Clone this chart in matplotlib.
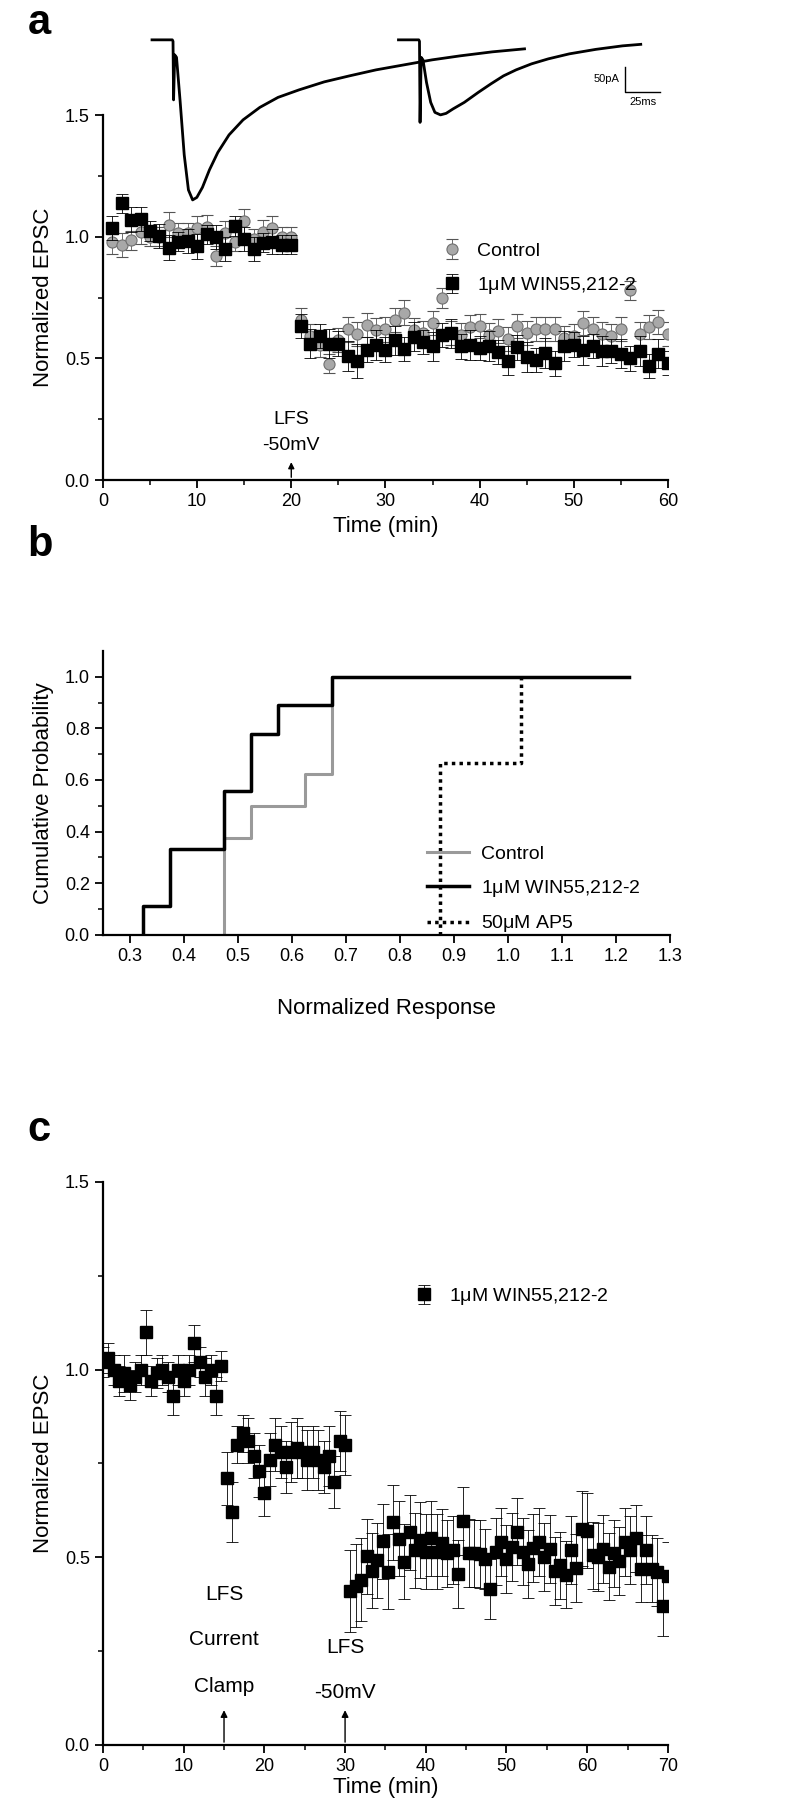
import numpy as np
import matplotlib
matplotlib.use('Agg')
import matplotlib.pyplot as plt

plt.rcParams['font.family'] = ['Liberation Sans', 'DejaVu Sans']
plt.rcParams['mathtext.default'] = 'regular'

# ---------------- Panel a data ----------------
time_a = list(range(1, 61))
win_a = [1.036, 1.137, 1.07, 1.074, 1.024, 1.004, 0.955, 0.98, 0.983, 0.96,
         1.01, 0.998, 0.95, 1.044, 0.99, 0.95, 0.976, 0.98, 0.967, 0.967,
         0.633, 0.561, 0.591, 0.561, 0.561, 0.51, 0.488, 0.536, 0.555, 0.536,
         0.575, 0.539, 0.589, 0.567, 0.549, 0.597, 0.603, 0.549, 0.555, 0.542,
         0.551, 0.527, 0.49, 0.545, 0.506, 0.494, 0.522, 0.479, 0.551, 0.557,
         0.533, 0.55, 0.53, 0.53, 0.52, 0.50, 0.53, 0.47, 0.52, 0.48]
win_a_err = [0.05, 0.04, 0.05, 0.05, 0.04, 0.05, 0.05, 0.04, 0.05, 0.05,
             0.04, 0.05, 0.05, 0.04, 0.05, 0.05, 0.04, 0.05, 0.04, 0.04,
             0.05, 0.06, 0.05, 0.06, 0.05, 0.06, 0.07, 0.05, 0.06, 0.05,
             0.06, 0.05, 0.06, 0.05, 0.06, 0.05, 0.06, 0.05, 0.06, 0.05,
             0.06, 0.05, 0.06, 0.05, 0.06, 0.05, 0.06, 0.05, 0.06, 0.05,
             0.06, 0.05, 0.06, 0.05, 0.06, 0.05, 0.06, 0.05, 0.06, 0.05]
ctrl_a = [0.98, 0.965, 0.985, 1.02, 1.0, 1.0, 1.05, 1.015, 1.015, 1.035,
          1.04, 0.92, 1.015, 0.98, 1.065, 0.99, 1.02, 1.035, 1.0, 1.0,
          0.658, 0.59, 0.555, 0.478, 0.575, 0.619, 0.6, 0.636, 0.615, 0.619,
          0.658, 0.688, 0.615, 0.603, 0.646, 0.749, 0.603, 0.597, 0.627, 0.633,
          0.597, 0.612, 0.579, 0.633, 0.603, 0.621, 0.621, 0.621, 0.585, 0.591,
          0.646, 0.62, 0.60, 0.59, 0.62, 0.78, 0.60, 0.63, 0.65, 0.60]
ctrl_a_err = [0.05, 0.05, 0.04, 0.05, 0.04, 0.04, 0.05, 0.04, 0.04, 0.05,
              0.05, 0.04, 0.05, 0.04, 0.05, 0.04, 0.05, 0.05, 0.04, 0.04,
              0.05, 0.05, 0.05, 0.04, 0.05, 0.05, 0.05, 0.05, 0.05, 0.05,
              0.05, 0.05, 0.05, 0.05, 0.05, 0.04, 0.05, 0.05, 0.05, 0.05,
              0.05, 0.05, 0.05, 0.05, 0.05, 0.05, 0.05, 0.05, 0.05, 0.05,
              0.05, 0.05, 0.05, 0.05, 0.05, 0.04, 0.05, 0.05, 0.05, 0.05]

# EPSC sample traces (ms, pA)
trace1_t = [-15, -0.5, 0, 0.4, 1.2, 2.5, 5, 8, 11, 14, 17, 21, 26, 32, 40, 50,
            62, 75, 90, 108, 126, 145, 165, 185, 205, 228, 251]
trace1_i = [0, 0, -3, -120, -30, -35, -120, -230, -300, -320, -315, -295, -260,
            -225, -190, -160, -135, -115, -100, -84, -72, -60, -50, -40, -32, -24, -18]
trace2_t = [-15, -0.5, 0, 0.4, 1.2, 2.5, 5, 8, 11, 15, 19, 24, 32, 42, 51, 60,
            69, 80, 92, 107, 126, 145, 158]
trace2_i = [0, 0, -3, -165, -35, -40, -85, -125, -145, -150, -147, -138, -125,
            -105, -88, -72, -60, -48, -38, -28, -19, -12, -9]

# ---------------- Panel b data ----------------
resp_ctrl = [0.475, 0.475, 0.475, 0.525, 0.625, 0.675, 0.675, 0.675]
resp_win = [0.325, 0.375, 0.375, 0.475, 0.475, 0.525, 0.525, 0.575, 0.675]
resp_ap5 = [0.875, 0.875, 1.025]
win_end = 1.225

# ---------------- Panel c data ----------------
time_c = np.arange(106) * (2.0 / 3.0)
win_c = [1.02, 1.03, 1.00, 0.97, 0.99, 0.96, 0.98, 1.00, 1.10, 0.97, 0.99, 1.00,
         0.98, 0.93, 1.00, 0.97, 1.00, 1.07, 1.02, 0.98, 1.00, 0.93, 1.01,
         0.71, 0.62, 0.80, 0.83, 0.81, 0.77, 0.73, 0.67, 0.76, 0.80, 0.78, 0.74,
         0.78, 0.79, 0.78, 0.76, 0.78, 0.76, 0.74, 0.77, 0.70, 0.81, 0.80,
         0.41, 0.424, 0.44, 0.502, 0.464, 0.492, 0.543, 0.462, 0.593, 0.549,
         0.488, 0.566, 0.518, 0.546, 0.515, 0.551, 0.515, 0.539, 0.51, 0.52,
         0.456, 0.597, 0.512, 0.51, 0.508, 0.495, 0.416, 0.515, 0.541, 0.495,
         0.528, 0.568, 0.515, 0.482, 0.525, 0.541, 0.5, 0.522, 0.464, 0.478,
         0.454, 0.52, 0.472, 0.576, 0.571, 0.505, 0.5, 0.522, 0.475,
         0.51, 0.49, 0.54, 0.52, 0.55, 0.47, 0.52, 0.47, 0.46, 0.37, 0.45]
win_c_err = [0.04, 0.04, 0.04, 0.04, 0.05, 0.04, 0.04, 0.04, 0.06, 0.04, 0.04, 0.04,
             0.04, 0.05, 0.04, 0.04, 0.04, 0.05, 0.04, 0.05, 0.04, 0.05, 0.04,
             0.07, 0.08, 0.05, 0.05, 0.06, 0.06, 0.07, 0.06, 0.07, 0.07, 0.07, 0.07,
             0.08, 0.08, 0.07, 0.08, 0.07, 0.08, 0.07, 0.08, 0.07, 0.08, 0.08,
             0.11, 0.11, 0.11, 0.10, 0.10, 0.10, 0.10, 0.10, 0.10, 0.10,
             0.10, 0.10, 0.10, 0.10, 0.10, 0.10, 0.10, 0.09, 0.09, 0.09,
             0.09, 0.09, 0.09, 0.09, 0.09, 0.08, 0.08, 0.09, 0.09, 0.09,
             0.09, 0.09, 0.09, 0.09, 0.09, 0.09, 0.09, 0.09, 0.09, 0.09,
             0.09, 0.09, 0.09, 0.10, 0.10, 0.09, 0.09, 0.09, 0.09,
             0.09, 0.09, 0.09, 0.09, 0.09, 0.09, 0.09, 0.09, 0.09, 0.08, 0.09]

# ---------------- Figure ----------------
fig = plt.figure(figsize=(7.89, 18), dpi=100)

TICK_FS = 13
LAB_FS = 16
LEG_FS = 14
GRAY_FC = '#a8a8a8'
GRAY_EC = '#707070'


def style_axis(ax):
    for s in ['top', 'right']:
        ax.spines[s].set_visible(False)
    for s in ['left', 'bottom']:
        ax.spines[s].set_linewidth(1.6)
    ax.tick_params(which='major', direction='out', length=6, width=1.3,
                   labelsize=TICK_FS)
    ax.tick_params(which='minor', direction='out', length=3.5, width=1.1)


# ----- Panel a -----
axa = fig.add_axes([0.1305, 0.7333, 0.716, 0.2028])
style_axis(axa)
axa.errorbar(time_a, ctrl_a, yerr=ctrl_a_err, fmt='o', ms=8, mfc=GRAY_FC,
             mec=GRAY_EC, mew=0.8, ecolor='#555555', elinewidth=0.6, capsize=4,
             capthick=0.6, label='Control', zorder=3)
axa.errorbar(time_a, win_a, yerr=win_a_err, fmt='s', ms=8.5, mfc='black',
             mec='black', ecolor='black', elinewidth=0.6, capsize=4,
             capthick=0.6, label='1$\\mu$M WIN55,212-2', zorder=4)
axa.set_xlim(0, 60)
axa.set_ylim(0, 1.5)
axa.set_xticks(range(0, 61, 10))
axa.set_xticks(range(5, 61, 10), minor=True)
axa.set_yticks([0.0, 0.5, 1.0, 1.5])
axa.set_yticks([0.25, 0.75, 1.25], minor=True)
axa.set_yticklabels(['0.0', '0.5', '1.0', '1.5'])
axa.set_xlabel('Time (min)', fontsize=LAB_FS, labelpad=4)
axa.set_ylabel('Normalized EPSC', fontsize=LAB_FS, labelpad=8)
axa.legend(loc='upper left', bbox_to_anchor=(0.57, 0.70), frameon=False,
           fontsize=LEG_FS, handletextpad=0.8, labelspacing=0.8,
           handlelength=1.0)
axa.annotate('', xy=(20, 0.085), xytext=(20, 0.0),
             arrowprops=dict(arrowstyle='-|>', color='black', lw=1.0,
                             mutation_scale=9))
axa.text(20, 0.25, 'LFS', ha='center', va='center', fontsize=14)
axa.text(20, 0.14, '-50mV', ha='center', va='center', fontsize=14)

# inset with EPSC traces
axt = fig.add_axes([0.1774, 0.8806, 0.6844, 0.1056])
axt.set_axis_off()
axt.set_xlim(-23.6, 362)
axt.set_ylim(-350, 30)
axt.plot(trace1_t, trace1_i, color='black', lw=2.0)
trace2_offset = 176
axt.plot(np.array(trace2_t) + trace2_offset, trace2_i, color='black', lw=2.0)
axt.plot([323, 323, 348], [-54, -104, -104], color='black', lw=1.0)
axt.text(319, -79, '50pA', ha='right', va='center', fontsize=8)
axt.text(335.5, -114, '25ms', ha='center', va='top', fontsize=8)

fig.text(0.035, 0.987, 'a', fontsize=30, fontweight='bold', ha='left', va='center')

# ----- Panel b -----
axb = fig.add_axes([0.1305, 0.4806, 0.7186, 0.1578])
style_axis(axb)


def cum_steps(values, end=None):
    vals = sorted(values)
    n = len(vals)
    xs = [vals[0]] + vals
    ys = [0.0] + [(i + 1) / n for i in range(n)]
    if end is not None:
        xs = xs + [end]
        ys = ys + [1.0]
    return xs, ys


xc, yc = cum_steps(resp_ctrl)
xw, yw = cum_steps(resp_win, win_end)
xp, yp = cum_steps(resp_ap5)
axb.step(xc, yc, where='post', color='#9a9a9a', lw=2.2, label='Control', zorder=2)
axb.step(xw, yw, where='post', color='black', lw=2.5, label='1$\\mu$M WIN55,212-2', zorder=3)
axb.step(xp, yp, where='post', color='black', lw=2.5, linestyle=(0, (1.0, 1.2)),
         label='50$\\mu$M AP5', zorder=2)
axb.set_xlim(0.25, 1.3)
axb.set_ylim(0, 1.1)
axb.set_xticks([0.3, 0.4, 0.5, 0.6, 0.7, 0.8, 0.9, 1.0, 1.1, 1.2, 1.3])
axb.set_yticks([0.0, 0.2, 0.4, 0.6, 0.8, 1.0])
axb.set_yticks([0.1, 0.3, 0.5, 0.7, 0.9], minor=True)
axb.set_yticklabels(['0.0', '0.2', '0.4', '0.6', '0.8', '1.0'])
axb.set_xlabel('Normalized Response', fontsize=LAB_FS, labelpad=24)
axb.set_ylabel('Cumulative Probability', fontsize=LAB_FS, labelpad=8)
axb.legend(loc='lower left', bbox_to_anchor=(0.54, -0.06), frameon=False,
           fontsize=LEG_FS, handlelength=2.2, handletextpad=0.6,
           labelspacing=0.75)
fig.text(0.035, 0.697, 'b', fontsize=30, fontweight='bold', ha='left', va='center')

# ----- Panel c -----
axc = fig.add_axes([0.1305, 0.0306, 0.716, 0.3128])
style_axis(axc)
axc.errorbar(time_c, win_c, yerr=win_c_err, fmt='s', ms=8.5, mfc='black',
             mec='black', ecolor='black', elinewidth=0.6, capsize=4,
             capthick=0.6, label='1$\\mu$M WIN55,212-2', zorder=3)
axc.set_xlim(0, 70)
axc.set_ylim(0, 1.5)
axc.set_xticks(range(0, 71, 10))
axc.set_xticks(range(5, 71, 10), minor=True)
axc.set_yticks([0.0, 0.5, 1.0, 1.5])
axc.set_yticks([0.25, 0.75, 1.25], minor=True)
axc.set_yticklabels(['0.0', '0.5', '1.0', '1.5'])
axc.set_xlabel('Time (min)', fontsize=LAB_FS, labelpad=1)
axc.set_ylabel('Normalized EPSC', fontsize=LAB_FS, labelpad=8)
axc.legend(loc='center left', bbox_to_anchor=(0.52, 0.796), frameon=False,
           fontsize=LEG_FS, handletextpad=0.8, handlelength=1.0)
for xa in (15, 30):
    axc.annotate('', xy=(xa, 0.10), xytext=(xa, 0.0),
                 arrowprops=dict(arrowstyle='-|>', color='black', lw=1.0,
                                 mutation_scale=10))
narrow = ['Liberation Sans Narrow', 'Liberation Sans', 'DejaVu Sans']
axc.text(15, 0.40, 'LFS', ha='center', va='center', fontsize=15, family=narrow)
axc.text(15, 0.28, 'Current', ha='center', va='center', fontsize=15, family=narrow)
axc.text(15, 0.155, 'Clamp', ha='center', va='center', fontsize=15, family=narrow)
axc.text(30, 0.26, 'LFS', ha='center', va='center', fontsize=15, family=narrow)
axc.text(30, 0.14, '-50mV', ha='center', va='center', fontsize=15, family=narrow)
fig.text(0.035, 0.372, 'c', fontsize=30, fontweight='bold', ha='left', va='center')

fig.savefig('out.png', dpi=100)
